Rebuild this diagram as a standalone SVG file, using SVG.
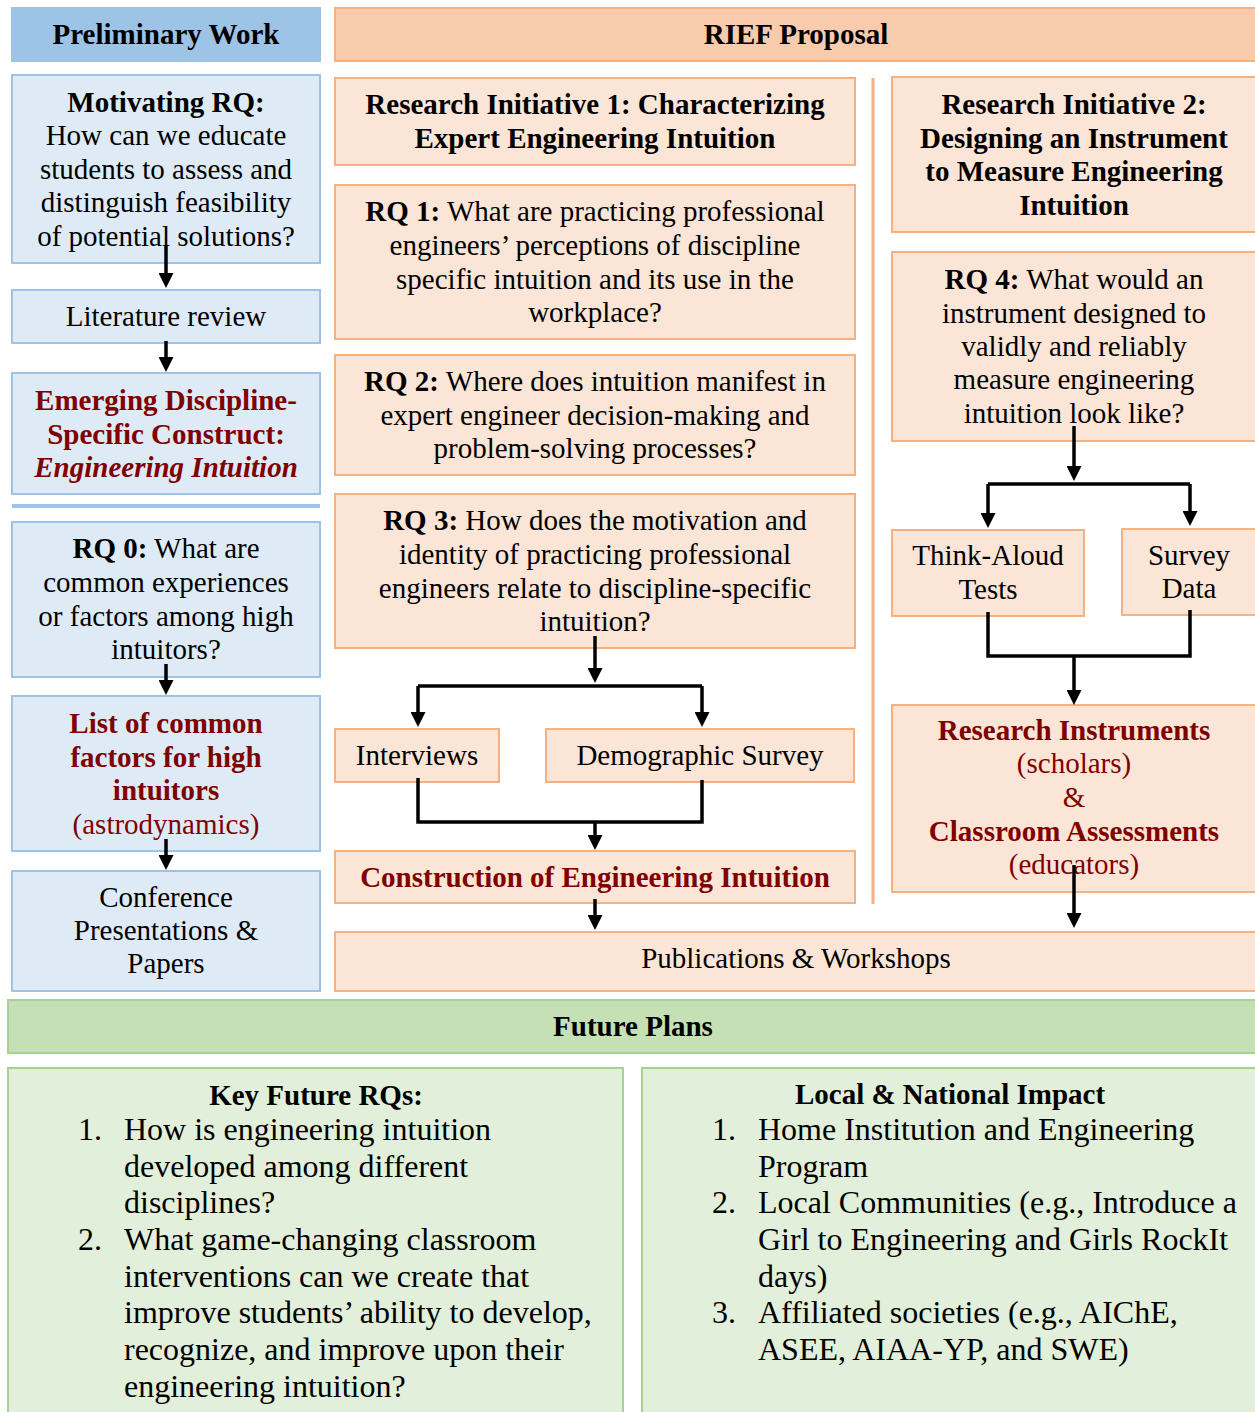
<svg xmlns="http://www.w3.org/2000/svg" width="1255" height="1412" viewBox="0 0 1255 1412">
<style>
.pb{fill:#DEEBF7;stroke:#9DC3E6;stroke-width:2}
.ph{fill:#9DC3E6;stroke:#9DC3E6;stroke-width:2}
.ob{fill:#FBE5D6;stroke:#F4B183;stroke-width:2}
.oh{fill:#F8CBAD;stroke:#F4B183;stroke-width:2}
.gb{fill:#E2EFDA;stroke:#A9D18E;stroke-width:2}
.gh{fill:#C5E0B4;stroke:#A9D18E;stroke-width:2}
text{font-family:"Liberation Serif","Times New Roman",serif;font-size:29px;fill:#000}
.c{text-anchor:middle}
.b{font-weight:bold}
.r{fill:#800000}
.i{font-style:italic}
.l{font-size:32px}
.conn path{stroke:#000;stroke-width:3.5;fill:none}
.arr{marker-end:url(#ah)}
</style>
<defs>
<marker id="ah" viewBox="0 0 10 10" refX="7" refY="5" markerWidth="15" markerHeight="15" markerUnits="userSpaceOnUse" orient="auto">
<path d="M0,0 L10,5 L0,10 z" fill="#000"/>
</marker>
</defs>
<rect width="1255" height="1412" fill="#fff"/>

<!-- Preliminary column -->
<g id="prelim-header"><rect class="ph" x="12" y="8" width="308" height="53"/><text class="c b" x="166" y="44">Preliminary Work</text></g>
<g id="motivating-rq"><rect class="pb" x="12" y="75" width="308" height="188"/>
<text class="c" x="166"><tspan class="b" x="166" y="112">Motivating RQ:</tspan><tspan x="166" y="145">How can we educate</tspan><tspan x="166" y="179">students to assess and</tspan><tspan x="166" y="212">distinguish feasibility</tspan><tspan x="166" y="246">of potential solutions?</tspan></text></g>
<g id="literature-review"><rect class="pb" x="12" y="290" width="308" height="53"/><text class="c" x="166" y="326">Literature review</text></g>
<g id="emerging-construct"><rect class="pb" x="12" y="373" width="308" height="121"/>
<text class="c b r"><tspan x="166" y="410">Emerging Discipline-</tspan><tspan x="166" y="444">Specific Construct:</tspan><tspan class="i" x="166" y="477">Engineering Intuition</tspan></text></g>
<line id="separator" x1="12" y1="506" x2="320" y2="506" stroke="#9DC3E6" stroke-width="4"/>
<g id="rq0"><rect class="pb" x="12" y="522" width="308" height="155"/>
<text class="c"><tspan x="166" y="558"><tspan class="b">RQ 0:</tspan> What are</tspan><tspan x="166" y="592">common experiences</tspan><tspan x="166" y="626">or factors among high</tspan><tspan x="166" y="659">intuitors?</tspan></text></g>
<g id="list-factors"><rect class="pb" x="12" y="696" width="308" height="155"/>
<text class="c r"><tspan class="b" x="166" y="733">List of common</tspan><tspan class="b" x="166" y="767">factors for high</tspan><tspan class="b" x="166" y="800">intuitors</tspan><tspan x="166" y="834">(astrodynamics)</tspan></text></g>
<g id="conference"><rect class="pb" x="12" y="871" width="308" height="120"/>
<text class="c"><tspan x="166" y="907">Conference</tspan><tspan x="166" y="940">Presentations &amp;</tspan><tspan x="166" y="973">Papers</tspan></text></g>

<!-- RIEF column -->
<g id="rief-header"><rect class="oh" x="335" y="8" width="925" height="53"/><text class="c b" x="796" y="44">RIEF Proposal</text></g>
<line id="divider" x1="873" y1="78" x2="873" y2="904" stroke="#F4B183" stroke-width="3"/>
<g id="ri1"><rect class="ob" x="335" y="78" width="520" height="87"/>
<text class="c b"><tspan x="595" y="114">Research Initiative 1: Characterizing</tspan><tspan x="595" y="148">Expert Engineering Intuition</tspan></text></g>
<g id="rq1"><rect class="ob" x="335" y="185" width="520" height="154"/>
<text class="c"><tspan x="595" y="221"><tspan class="b">RQ 1:</tspan> What are practicing professional</tspan><tspan x="595" y="255">engineers’ perceptions of discipline</tspan><tspan x="595" y="289">specific intuition and its use in the</tspan><tspan x="595" y="322">workplace?</tspan></text></g>
<g id="rq2"><rect class="ob" x="335" y="355" width="520" height="120"/>
<text class="c"><tspan x="595" y="391"><tspan class="b">RQ 2:</tspan> Where does intuition manifest in</tspan><tspan x="595" y="425">expert engineer decision-making and</tspan><tspan x="595" y="458">problem-solving processes?</tspan></text></g>
<g id="rq3"><rect class="ob" x="335" y="494" width="520" height="154"/>
<text class="c"><tspan x="595" y="530"><tspan class="b">RQ 3:</tspan> How does the motivation and</tspan><tspan x="595" y="564">identity of practicing professional</tspan><tspan x="595" y="598">engineers relate to discipline-specific</tspan><tspan x="595" y="631">intuition?</tspan></text></g>
<g id="interviews"><rect class="ob" x="335" y="729" width="164" height="53"/><text class="c" x="417" y="765">Interviews</text></g>
<g id="demographic-survey"><rect class="ob" x="546" y="729" width="308" height="53"/><text class="c" x="700" y="765">Demographic Survey</text></g>
<g id="construction"><rect class="ob" x="335" y="851" width="520" height="52"/><text class="c b r" x="595" y="887">Construction of Engineering Intuition</text></g>
<g id="ri2"><rect class="ob" x="892" y="77" width="368" height="155"/>
<text class="c b"><tspan x="1074" y="114">Research Initiative 2:</tspan><tspan x="1074" y="148">Designing an Instrument</tspan><tspan x="1074" y="181">to Measure Engineering</tspan><tspan x="1074" y="215">Intuition</tspan></text></g>
<g id="rq4"><rect class="ob" x="892" y="252" width="368" height="189"/>
<text class="c"><tspan x="1074" y="289"><tspan class="b">RQ 4:</tspan> What would an</tspan><tspan x="1074" y="323">instrument designed to</tspan><tspan x="1074" y="356">validly and reliably</tspan><tspan x="1074" y="389">measure engineering</tspan><tspan x="1074" y="423">intuition look like?</tspan></text></g>
<g id="think-aloud"><rect class="ob" x="892" y="530" width="192" height="86"/>
<text class="c"><tspan x="988" y="565">Think-Aloud</tspan><tspan x="988" y="599">Tests</tspan></text></g>
<g id="survey-data"><rect class="ob" x="1122" y="529" width="138" height="86"/>
<text class="c"><tspan x="1189" y="565">Survey</tspan><tspan x="1189" y="598">Data</tspan></text></g>
<g id="research-instruments"><rect class="ob" x="892" y="705" width="368" height="187"/>
<text class="c r"><tspan class="b" x="1074" y="740">Research Instruments</tspan><tspan x="1074" y="773">(scholars)</tspan><tspan x="1074" y="807">&amp;</tspan><tspan class="b" x="1074" y="841">Classroom Assessments</tspan><tspan x="1074" y="874">(educators)</tspan></text></g>
<g id="publications"><rect class="ob" x="335" y="932" width="925" height="59"/><text class="c" x="796" y="968">Publications &amp; Workshops</text></g>

<!-- Future plans -->
<g id="future-header"><rect class="gh" x="8" y="1000" width="1252" height="53"/><text class="c b" x="633" y="1036">Future Plans</text></g>
<g id="key-future-rqs"><rect class="gb" x="8" y="1068" width="615" height="360"/>
<text class="c b" x="316" y="1105">Key Future RQs:</text>
<text class="l"><tspan x="78" y="1140">1.</tspan><tspan x="124" y="1140">How is engineering intuition</tspan><tspan x="124" y="1177">developed among different</tspan><tspan x="124" y="1213">disciplines?</tspan><tspan x="78" y="1250">2.</tspan><tspan x="124" y="1250">What game-changing classroom</tspan><tspan x="124" y="1287">interventions can we create that</tspan><tspan x="124" y="1323">improve students’ ability to develop,</tspan><tspan x="124" y="1360">recognize, and improve upon their</tspan><tspan x="124" y="1397">engineering intuition?</tspan></text></g>
<g id="local-national-impact"><rect class="gb" x="642" y="1068" width="618" height="360"/>
<text class="c b" x="950" y="1104">Local &amp; National Impact</text>
<text class="l"><tspan x="712" y="1140">1.</tspan><tspan x="758" y="1140">Home Institution and Engineering</tspan><tspan x="758" y="1177">Program</tspan><tspan x="712" y="1213">2.</tspan><tspan x="758" y="1213">Local Communities (e.g., Introduce a</tspan><tspan x="758" y="1250">Girl to Engineering and Girls RockIt</tspan><tspan x="758" y="1287">days)</tspan><tspan x="712" y="1323">3.</tspan><tspan x="758" y="1323">Affiliated societies (e.g., AIChE,</tspan><tspan x="758" y="1360">ASEE, AIAA-YP, and SWE)</tspan></text></g>

<!-- Connectors -->
<g id="connectors" class="conn">
<path class="arr" d="M166,245 V283.5"/>
<path class="arr" d="M166,341 V367.5"/>
<path class="arr" d="M166,664 V690.5"/>
<path class="arr" d="M166,839 V865.5"/>
<path class="arr" d="M595,636 V678.5"/>
<path d="M418,686 H702"/>
<path class="arr" d="M418,686 V722.5"/>
<path class="arr" d="M702,686 V722.5"/>
<path d="M418,778 V822 H702 V780"/>
<path class="arr" d="M595,822 V845.5"/>
<path class="arr" d="M595,899 V925.5"/>
<path class="arr" d="M1074,426 V476.5"/>
<path d="M988,484 H1190"/>
<path class="arr" d="M988,484 V523.5"/>
<path class="arr" d="M1190,484 V521.5"/>
<path d="M988,612 V656 H1190 V610"/>
<path class="arr" d="M1074,656 V700.5"/>
<path class="arr" d="M1074,865 V923.5"/>
</g>
</svg>
